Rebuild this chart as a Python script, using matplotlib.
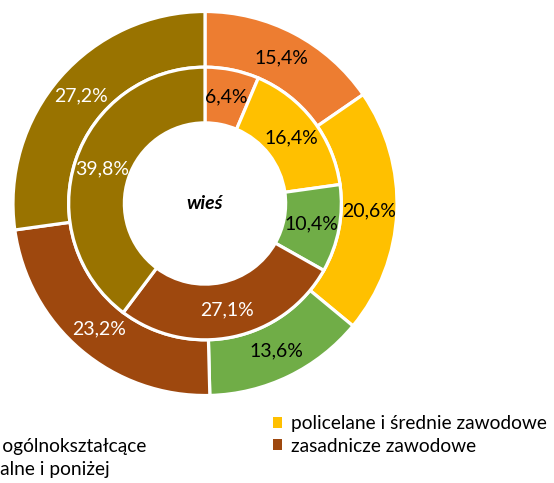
import matplotlib
matplotlib.use("Agg")
import matplotlib.pyplot as plt
from matplotlib.patches import Patch

categories = ["wyższe", "policelane i średnie zawodowe", "średnie ogólnokształcące",
              "zasadnicze zawodowe", "gimnazjalne i poniżej"]
colors = ["#ED7D31", "#FFC000", "#70AD47", "#9E480E", "#997300"]
outer_vals = [15.4, 20.6, 13.6, 23.2, 27.2]
inner_vals = [6.4, 16.4, 10.4, 27.1, 39.8]
label_colors = ["black", "black", "black", "white", "white"]

plt.rcParams["font.family"] = ["Lato", "DejaVu Sans"]

W, H = 554, 483
fig = plt.figure(figsize=(W / 100, H / 100), dpi=100)

# pie axes placed by pixel centre/radius
cx, cy, R = 205, 203.5, 192
ax = fig.add_axes([(cx - R) / W, 1 - (cy + R) / H, 2 * R / W, 2 * R / H])
ax.set_aspect("equal")
ax.axis("off")

ring_w = 0.29
edge = dict(edgecolor="white", linewidth=2.3)

def fmt(v):
    return f"{v:.1f}".replace(".", ",") + "%"

for vals, radius in [(outer_vals, 1.0), (inner_vals, 1.0 - ring_w)]:
    wedges, texts = ax.pie(vals, radius=radius, colors=colors, startangle=90,
                           counterclock=False,
                           wedgeprops=dict(width=ring_w, **edge),
                           labels=[fmt(v) for v in vals],
                           labeldistance=(radius - ring_w / 2) / radius,
                           textprops=dict(fontsize=14))
    for t, c in zip(texts, label_colors):
        t.set_color(c)
        t.set_ha("center")
        t.set_va("center")

ax.set_xlim(-1, 1)
ax.set_ylim(-1, 1)
ax.text(0, 0, "wieś", ha="center", va="center", fontsize=14,
        fontweight="bold", fontstyle="italic")

# legend: two columns drawn as separate legends so their x can be set exactly
fs = 13.8
renderer = fig.canvas.get_renderer()
probe = fig.text(0, 0, "średnie ", fontsize=fs)
prefix_w = probe.get_window_extent(renderer).width
probe.remove()

leg_kw = dict(loc="upper left", frameon=False, fontsize=fs,
              handlelength=0.5, handleheight=0.5, handletextpad=0.45,
              labelspacing=0.3, borderaxespad=0, borderpad=0)
marker_gap = 0.95 * fs * 100 / 72  # handle + pad width in px
top = 1 - 415 / H

col1 = [0, 2, 4]
col2 = [1, 3]
x1 = 2 - prefix_w - marker_gap
x2 = 291 - marker_gap
for idx, x in [(col1, x1), (col2, x2)]:
    lg = fig.legend([Patch(facecolor=colors[i], edgecolor="none") for i in idx],
                    [categories[i] for i in idx],
                    bbox_to_anchor=(x / W, top), **leg_kw)

fig.savefig("out.png", dpi=100)
